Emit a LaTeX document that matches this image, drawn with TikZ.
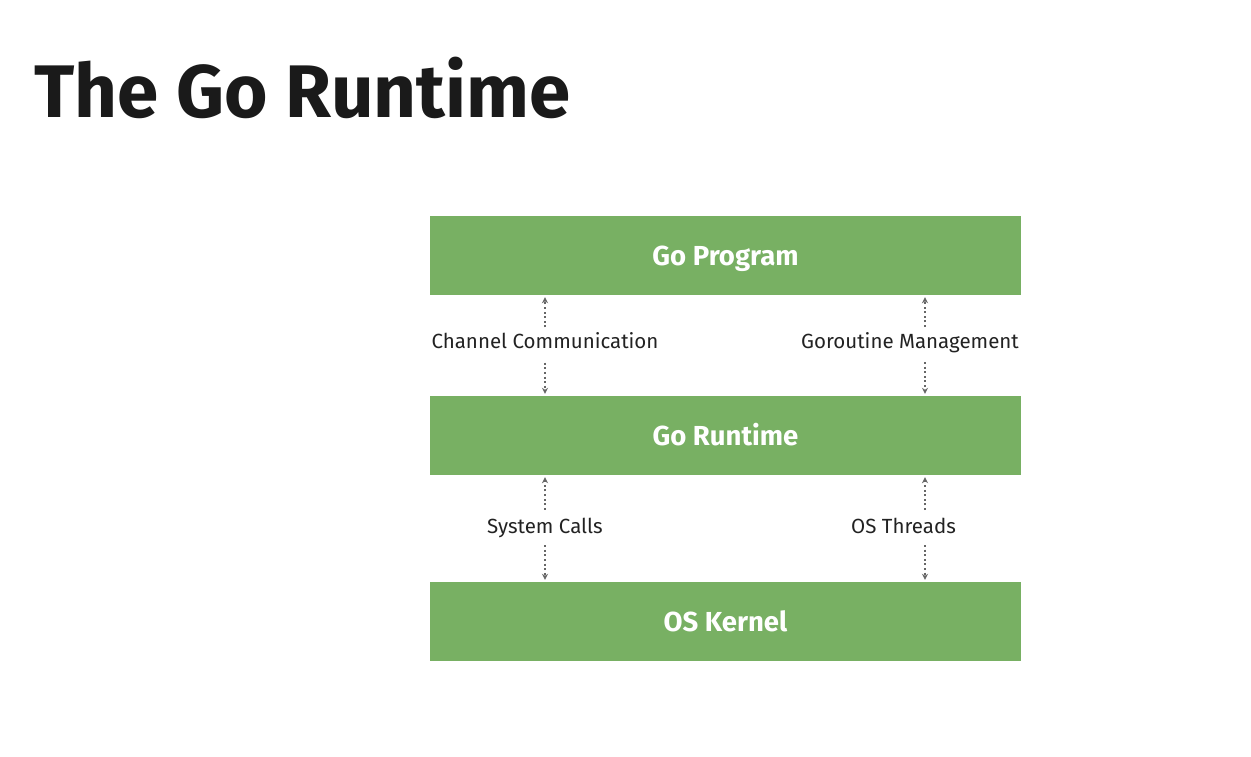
\documentclass[tikz,border=0pt]{standalone}
\usepackage{fontspec}
\setmainfont{Fira Sans}
\usepackage{tikz}
\usetikzlibrary{arrows.meta}
\definecolor{layergreen}{HTML}{78B063}
\definecolor{titleink}{HTML}{1A1A1A}
\definecolor{lblink}{HTML}{222222}
\definecolor{arrowgrey}{HTML}{666666}

\begin{document}
\begin{tikzpicture}[x=1pt,y=-1pt]
  \tikzset{layer/.style={fill=layergreen,minimum width=591pt,minimum height=79pt,inner sep=0pt,
      text=white,text height=19pt,text depth=0pt,font=\fontsize{27.5}{30}\selectfont\bfseries},
    lbl/.style={text=lblink,inner sep=2pt,text height=14pt,text depth=0pt,font=\fontsize{20.5}{24}\selectfont},
    link/.style={draw=arrowgrey,line width=1.2pt,dash pattern=on 2pt off 2.6pt,shorten >=2pt,
      -{Stealth[length=6pt,width=6pt,open,line width=1pt]}}}%
\useasboundingbox (0,0) rectangle (1251,756);
\node[anchor=base west,text=titleink,inner sep=0pt,font=\fontsize{74.5}{84}\selectfont\bfseries] (title) at (34,117) {The Go Runtime};
\node[layer] (prog) at (725.5,255.5) {Go Program};
\node[layer] (rt) at (725.5,435.5) {Go Runtime};
\node[layer] (kern) at (725.5,621.5) {OS Kernel};
\node[lbl] (chan) at (545,341.5) {Channel Communication};
\node[lbl] (gor) at (910,341.5) {Goroutine Management};
\node[lbl] (sys) at (545,526) {System Calls};
\node[lbl] (thr) at (903.5,526) {OS Threads};
% arrow ends beside the right hand labels
\coordinate (gorup) at (925,327);
\coordinate (gordn) at (925,362);
\coordinate (thrup) at (925,510);
\coordinate (thrdn) at (925,545);
\draw[link,shorten <=5pt] (chan.north) -- (prog.south -| chan.north);
\draw[link,shorten <=12pt] (chan.south) -- (rt.north -| chan.south);
\draw[link] (gorup) -- (prog.south -| gorup);
\draw[link] (gordn) -- (rt.north -| gordn);
\draw[link,shorten <=7pt] (sys.north) -- (rt.south -| sys.north);
\draw[link,shorten <=10pt] (sys.south) -- (kern.north -| sys.south);
\draw[link] (thrup) -- (rt.south -| thrup);
\draw[link] (thrdn) -- (kern.north -| thrdn);
\end{tikzpicture}
\end{document}
